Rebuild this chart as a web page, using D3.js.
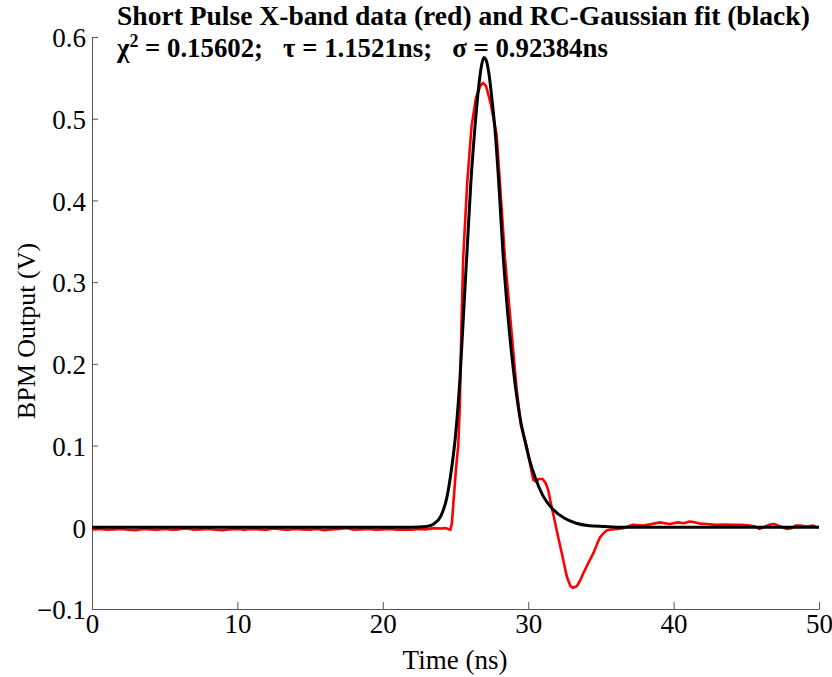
<!DOCTYPE html>
<html>
<head>
<meta charset="utf-8">
<script src="https://cdn.jsdelivr.net/npm/d3@7"></script>
<style>
  body { margin: 0; background: #fff; }
  svg { display: block; }
</style>
</head>
<body>
<svg width="832" height="677" font-family="Liberation Serif"></svg>
<script>
// values
var xTicks = [0, 10, 20, 30, 40, 50];
var yTicks = [-0.1, 0, 0.1, 0.2, 0.3, 0.4, 0.5, 0.6];

// RC-Gaussian fit (black)
var fitTime = [0, 5, 10, 15, 20, 22, 23, 23.5, 24, 24.4, 24.7, 25, 25.3, 25.55, 25.8, 26.05, 26.34, 26.6, 26.8,
  26.95, 27.1, 27.3, 27.5, 27.7, 28, 28.25, 28.6, 29, 29.4, 29.85, 30.1, 30.5, 31, 31.7, 32.5, 33.3, 34.2,
  35.2, 36.5, 38, 40, 45, 50];
var fitVolt = [0, 0, 0, 0, 0, 0, 0.001, 0.004, 0.014, 0.036, 0.068, 0.112, 0.18, 0.26, 0.34, 0.42, 0.49, 0.54, 0.566,
  0.575, 0.572, 0.555, 0.525, 0.49, 0.415, 0.34, 0.26, 0.19, 0.138, 0.1, 0.082, 0.06, 0.039, 0.022, 0.011, 0.005, 0.002,
  0.001, 0, 0, 0, 0, 0];

// measured X-band data (red)
var dataTime = [0, 0.5, 1, 1.5, 2, 2.5, 3, 3.5, 4, 4.5, 5, 5.5, 6, 6.5, 7, 7.5, 8, 8.5, 9, 9.5,
  10, 10.5, 11, 11.5, 12, 12.5, 13, 13.5, 14, 14.5, 15, 15.5, 16, 16.5, 17, 17.5, 18, 18.5, 19, 19.5,
  20, 20.5, 21, 21.5, 22, 22.5, 23, 23.5, 24, 24.3, 24.65, 24.75, 24.9, 25.05, 25.19, 25.3, 25.4, 25.53, 25.8,
  26.1, 26.4, 26.7, 26.9, 27.1, 27.4, 27.83, 28.1, 28.4, 28.8, 29.2, 29.5, 29.9, 30.1, 30.35, 30.55, 30.7,
  31, 31.2, 31.37, 31.55, 31.7, 31.95, 32.2, 32.45, 32.65, 32.9, 33.1, 33.35, 33.6, 33.8, 34.1, 34.5,
  34.75, 34.95, 35.2, 35.4, 35.6, 36.1, 36.55, 37.2, 37.9, 38.5, 39.06, 39.4, 39.75, 40.3, 40.7, 41.1,
  41.5, 41.8, 42.3, 42.9, 43.5, 44.1, 44.6, 45.26, 45.6, 45.9, 46.3, 46.6, 46.9, 47.2, 47.5, 47.8,
  48.1, 48.4, 48.7, 49.2, 49.6, 49.85];
var dataVolt = [-0.003, -0.002, -0.003, -0.0025, -0.002, -0.003, -0.0035, -0.002, -0.0025, -0.003,
  -0.002, -0.003, -0.0025, -0.0015, -0.003, -0.0025, -0.002, -0.003, -0.0035, -0.0025,
  -0.002, -0.003, -0.002, -0.0025, -0.003, -0.0015, -0.0025, -0.003, -0.002, -0.0025,
  -0.003, -0.002, -0.0035, -0.0025, -0.002, -0.001, -0.003, -0.0025, -0.002, -0.003,
  -0.0025, -0.002, -0.003, -0.0025, -0.003, -0.002, -0.0025, -0.001, -0.0015, -0.001, -0.003, 0.005, 0.04,
  0.075, 0.1, 0.15, 0.24, 0.33, 0.42,
  0.49, 0.525, 0.54, 0.544, 0.54, 0.52, 0.48, 0.41, 0.33, 0.25, 0.17, 0.125, 0.099, 0.08, 0.058, 0.056, 0.059,
  0.059, 0.054, 0.046, 0.03, 0.018, -0.003, -0.023, -0.043, -0.06, -0.072, -0.074, -0.072, -0.064, -0.056, -0.045, -0.031,
  -0.02, -0.012, -0.007, -0.004, -0.003, -0.002, -0.001, 0.003, 0.002, 0.004, 0.006, 0.005, 0.004, 0.006, 0.005, 0.007,
  0.006, 0.0045, 0.004, 0.003, 0.0035, 0.003, 0.003, 0.002, 0.001, -0.002, 0.001, 0.003, 0.004, 0.002, 0, -0.002,
  -0.001, 0.002, 0.002, 0.001, 0.002, 0];

var serif = "Liberation Serif";
var svg = d3.select("svg");

var x = d3.scaleLinear().domain([0, 50]).range([92, 819]);
var y = d3.scaleLinear().domain([-0.1, 0.6]).range([609, 37]);

var fmt = function(d) { return d3.format("")(+d.toFixed(1)); };

var xAxis = svg.append("g")
  .attr("transform", "translate(0,609)")
  .call(d3.axisBottom(x).tickValues(xTicks).tickSize(-7).tickSizeOuter(0).tickPadding(5).tickFormat(fmt));

var yAxis = svg.append("g")
  .attr("transform", "translate(92,0)")
  .call(d3.axisLeft(y).tickValues(yTicks).tickSize(-6).tickSizeOuter(0).tickPadding(6).tickFormat(fmt));

[xAxis, yAxis].forEach(function(g) {
  g.attr("font-family", serif).attr("font-size", 27);
  g.selectAll("path, line").attr("stroke", "#555").attr("stroke-width", 1);
  g.selectAll("text").attr("fill", "#000");
});
yAxis.selectAll("text").attr("dy", "0.36em");

var line = d3.line()
  .x(function(d) { return x(d[0]); })
  .y(function(d) { return y(d[1]); });

svg.append("path")
  .datum(d3.zip(dataTime, dataVolt))
  .attr("fill", "none")
  .attr("stroke", "#f00")
  .attr("stroke-width", 2.6)
  .attr("stroke-linejoin", "round")
  .attr("d", line);

svg.append("path")
  .datum(d3.zip(fitTime, fitVolt))
  .attr("fill", "none")
  .attr("stroke", "#000")
  .attr("stroke-width", 3)
  .attr("stroke-linejoin", "round")
  .attr("d", line.curve(d3.curveMonotoneX));

// axis labels
svg.append("text")
  .attr("x", 455).attr("y", 669)
  .attr("text-anchor", "middle")
  .attr("font-family", serif)
  .attr("font-size", 27)
  .text("Time (ns)");

svg.append("text")
  .attr("transform", "translate(35,331) rotate(-90)")
  .attr("text-anchor", "middle")
  .attr("font-family", serif)
  .attr("font-size", 26)
  .text("BPM Output (V)");

// title, two lines
var t1 = svg.append("text")
  .attr("x", 117).attr("y", 25)
  .attr("font-family", serif)
  .attr("font-weight", "bold")
  .attr("font-size", 24)
  .text("Short Pulse X-band data (red) and RC-Gaussian fit (black)");

var t2 = svg.append("text")
  .attr("x", 117).attr("y", 57)
  .attr("font-family", serif)
  .attr("font-weight", "bold")
  .attr("font-size", 24)
  .style("white-space", "pre");
t2.append("tspan").text("\u03c7");
var sup = t2.append("tspan").attr("dy", -10).attr("font-size", 16).text("2");
t2.append("tspan").attr("dy", 10).text(" = 0.15602;   \u03c4 = 1.1521ns;   \u03c3 = 0.92384ns");

// squeeze title lines to the widths they have in the picture
var w1 = t1.node().getComputedTextLength();
t1.attr("font-size", (24 * 693 / w1).toFixed(2));
var w2 = t2.node().getComputedTextLength();
var k2 = 491 / w2;
t2.attr("font-size", (24 * k2).toFixed(2));
sup.attr("font-size", (16 * k2).toFixed(2));
</script>
</body>
</html>
